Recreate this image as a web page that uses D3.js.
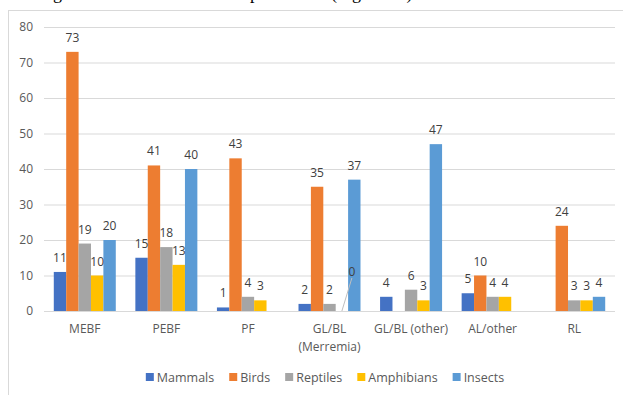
<!DOCTYPE html>
<html>
<head>
<meta charset="utf-8">
<script src="https://cdn.jsdelivr.net/npm/d3@7"></script>
<style>
  html, body { margin: 0; padding: 0; background: #fff; }
  svg { display: block; }
</style>
</head>
<body>
<svg id="chart" width="623" height="395"></svg>
<script>
// ---- data ----
const categories = ["MEBF", "PEBF", "PF", "GL/BL (Merremia)", "GL/BL (other)", "AL/other", "RL"];
const seriesNames = ["Mammals", "Birds", "Reptiles", "Amphibians", "Insects"];
const mammals    = [11, 15, 1, 2, 4, 5, null];
const birds      = [73, 41, 43, 35, null, 10, 24];
const reptiles   = [19, 18, 4, 2, 6, 4, 3];
const amphibians = [10, 13, 3, 0, 3, 4, 3];
const insects    = [20, 40, null, 37, 47, null, 4];
const yTicks = [0, 10, 20, 30, 40, 50, 60, 70, 80];
const colors = ["#4472C4", "#ED7D31", "#A5A5A5", "#FFC000", "#5B9BD5"];

const seriesValues = [mammals, birds, reptiles, amphibians, insects];

(function () {
const svg = d3.select("#chart");
const W = 623, H = 395;
svg.append("rect").attr("width", W).attr("height", H).attr("fill", "#fff");

// cropped caption text from page above the chart
const cap = svg.append("text")
  .attr("y", -1)
  .attr("font-family", "'Liberation Serif', 'Times New Roman', serif")
  .attr("font-size", 18)
  .attr("fill", "#000");
cap.append("tspan").attr("x", 39).text("ing");
cap.append("tspan").attr("x", 243).text("species");
cap.append("tspan").attr("x", 331).text("(Figure 10)");

// chart frame
svg.append("rect")
  .attr("x", 8.5).attr("y", 10.5)
  .attr("width", W + 10).attr("height", H + 10)
  .attr("fill", "#fff")
  .attr("stroke", "#d9d9d9").attr("stroke-width", 1);

const pLeft = 44, pRight = 615, pTop = 27, pBottom = 311;

const y = d3.scaleLinear().domain([0, 80]).range([pBottom, pTop]);
const x0 = d3.scaleBand().domain(categories).range([pLeft, pRight])
  .paddingInner(0.24).paddingOuter(0.12);
const x1 = d3.scaleBand().domain(seriesNames).range([0, x0.bandwidth()]).padding(0);

const font = "'Open Sans', 'Noto Sans', sans-serif";

// gridlines
const grid = svg.append("g").attr("transform", `translate(${pLeft},0)`)
  .call(d3.axisLeft(y).tickValues(yTicks).tickSize(-(pRight - pLeft)).tickFormat(""));
grid.select(".domain").remove();
grid.selectAll("line").attr("stroke", "#d9d9d9").attr("stroke-width", 1);

// y labels
const yAxis = svg.append("g").attr("transform", `translate(${pLeft},0)`)
  .call(d3.axisLeft(y).tickValues(yTicks).tickSize(0).tickPadding(11));
yAxis.select(".domain").remove();
yAxis.selectAll("text")
  .attr("font-family", font).attr("font-size", 12).attr("fill", "#595959");

// bars
const rows = [];
categories.forEach((c, i) => {
  seriesNames.forEach((s, j) => {
    rows.push({ cat: c, series: s, value: seriesValues[j][i], color: colors[j] });
  });
});
const present = rows.filter(d => d.value !== null);

svg.append("g").selectAll("rect")
  .data(present.filter(d => d.value > 0))
  .join("rect")
  .attr("x", d => x0(d.cat) + x1(d.series))
  .attr("y", d => y(d.value))
  .attr("width", x1.bandwidth())
  .attr("height", d => y(0) - y(d.value))
  .attr("fill", d => d.color);

// data labels
const labels = svg.append("g")
  .attr("font-family", font).attr("font-size", 12).attr("fill", "#404040")
  .attr("text-anchor", "middle");
present.forEach(d => {
  const cx = x0(d.cat) + x1(d.series) + x1.bandwidth() / 2;
  if (d.value === 0) {
    const lx = cx + 10, ly = y(0) - 34;
    svg.append("line")
      .attr("x1", cx).attr("y1", y(0))
      .attr("x2", lx).attr("y2", ly + 1)
      .attr("stroke", "#bfbfbf").attr("stroke-width", 1);
    labels.append("text").attr("x", lx).attr("y", ly - 1).text(d.value);
  } else {
    labels.append("text").attr("x", cx).attr("y", y(d.value) - 10).text(d.value);
  }
});

// x axis labels
const xAxis = svg.append("g").attr("transform", `translate(0,${pBottom})`)
  .call(d3.axisBottom(x0).tickSize(0).tickPadding(0));
xAxis.select(".domain").remove();
xAxis.selectAll("text")
  .attr("font-family", font).attr("font-size", 12).attr("fill", "#595959")
  .attr("dy", null)
  .each(function(d) {
    const t = d3.select(this);
    t.text(null);
    const tmp = t.append("tspan").text(d);
    const w = tmp.node().getComputedTextLength();
    tmp.remove();
    let lines = [d];
    if (w > x0.step() - 4) {
      const k = d.indexOf(" ");
      lines = [d.slice(0, k), d.slice(k + 1)];
    }
    lines.forEach((ln, i) => {
      t.append("tspan").attr("x", 0).attr("y", 22 + i * 18).text(ln);
    });
  });

// legend
const legend = svg.append("g");
const items = [];
let cursor = 0;
seriesNames.forEach((s, j) => {
  const g = legend.append("g");
  g.append("rect").attr("x", 0).attr("y", -4).attr("width", 8).attr("height", 8).attr("fill", colors[j]);
  const t = g.append("text").attr("x", 11).attr("y", 4.5)
    .attr("font-family", font).attr("font-size", 12.5).attr("fill", "#595959").text(s);
  const w = 11 + t.node().getComputedTextLength();
  items.push({ g, x: cursor });
  cursor += w + 15;
});
const total = cursor - 15;
const startX = 325 - total / 2;
items.forEach(it => it.g.attr("transform", `translate(${startX + it.x},377)`));
})();
</script>
</body>
</html>
